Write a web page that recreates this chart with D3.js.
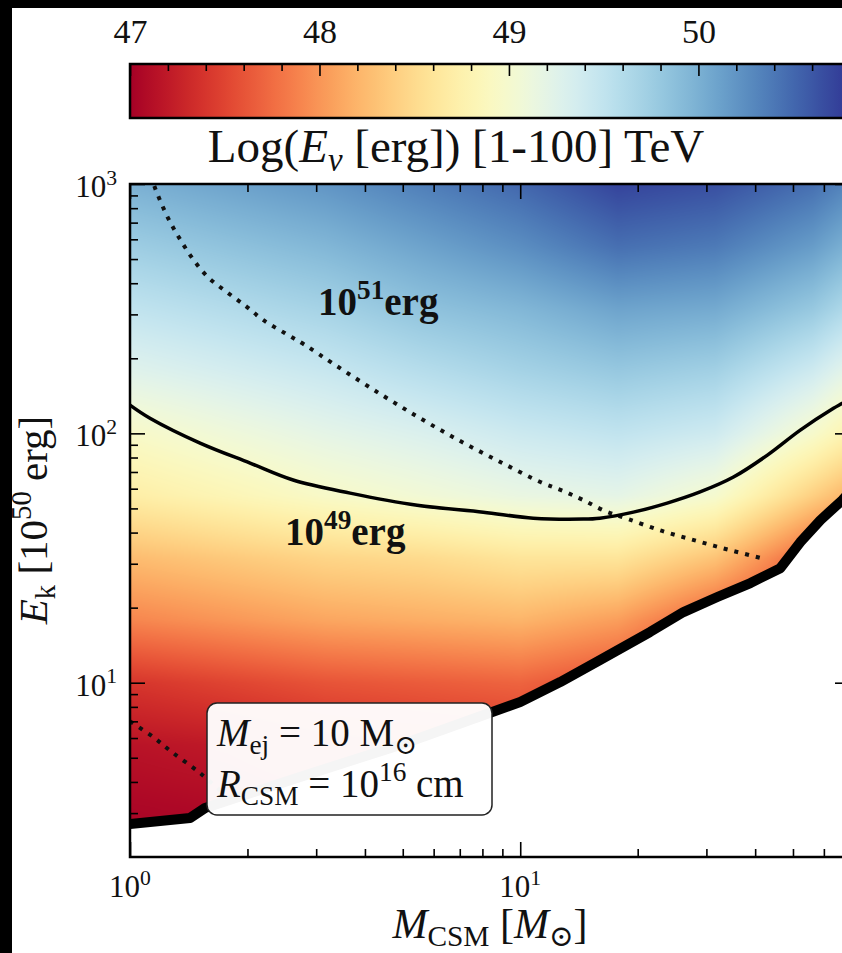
<!DOCTYPE html>
<html><head><meta charset="utf-8">
<script src="https://cdn.jsdelivr.net/npm/d3@7/dist/d3.min.js"></script>
<style>
html,body{margin:0;padding:0;background:#000;overflow:hidden}
svg{display:block}
text{font-family:"Liberation Serif","DejaVu Serif",serif;fill:#111;white-space:pre}
</style></head><body>
<svg id="chart" width="842" height="953"></svg>
<script>
// ---------------- data ----------------
const logMGrid  = [0, 0.25, 0.5, 0.75, 1, 1.25, 1.5, 1.75, 2];
const logEkGrid = [3, 2.75, 2.5, 2.25, 2, 1.75, 1.5, 1.25, 1, 0.75, 0.5, 0.25];
// Log(E_nu) ; rows = logEkGrid, columns = logMGrid
const logEnu = [
  [50.00, 50.10, 50.20, 50.35, 50.50, 50.72, 50.65, 50.45, 50.05],
  [49.75, 49.85, 49.95, 50.10, 50.25, 50.45, 50.38, 50.15, 49.70],
  [49.50, 49.60, 49.70, 49.85, 49.95, 50.10, 50.05, 49.80, 49.30],
  [49.25, 49.35, 49.45, 49.58, 49.70, 49.80, 49.72, 49.40, 48.85],
  [48.95, 49.08, 49.20, 49.30, 49.42, 49.50, 49.40, 48.98, 48.40],
  [48.70, 48.82, 48.95, 49.05, 49.15, 49.20, 49.00, 48.40, 47.80],
  [48.25, 48.35, 48.45, 48.50, 48.60, 48.60, 48.30, 47.65, 47.30],
  [47.90, 48.00, 48.10, 48.15, 48.20, 48.05, 47.65, 47.30, 47.15],
  [47.40, 47.50, 47.60, 47.65, 47.70, 47.55, 47.30, 47.20, 47.10],
  [47.15, 47.20, 47.30, 47.35, 47.40, 47.30, 47.20, 47.10, 47.00],
  [47.05, 47.08, 47.15, 47.20, 47.25, 47.20, 47.10, 47.00, 47.00],
  [47.00, 47.00, 47.05, 47.10, 47.15, 47.10, 47.00, 47.00, 47.00]
];
const contour49M  = [1.0, 1.125, 1.512, 2.031, 2.618, 3.665, 5.445, 8.04, 10.8, 14.5, 16.0, 19.5, 23.8, 28.9, 35.2, 43.0, 52.2, 63.5, 66.9, 70];
const contour49Ek = [129.8, 115, 91.4, 76.0, 65.0, 57.6, 51.5, 48.3, 45.7, 45.3, 45.7, 48.3, 52.5, 58.2, 66.8, 81.8, 103, 126, 132, 138];
const dotted1M  = [1.112, 1.152, 1.252, 1.343, 1.450, 1.585, 1.773, 1.995, 2.193, 2.497, 2.81, 3.355, 4.375, 5.54, 7.02, 8.89, 11.26, 12.9, 14.5, 16.5, 18.9, 23.1, 28.4, 34.5, 42.5];
const dotted1Ek = [1191, 989, 730, 601, 500, 423, 368, 321, 285, 252, 226, 188, 144, 115, 93.1, 76.8, 63.8, 58.7, 54.0, 48.8, 45.3, 40.6, 37.0, 34.0, 31.3];
const dotted2M  = [1.0, 1.146, 1.281, 1.512, 1.752];
const dotted2Ek = [7.0, 6.06, 5.27, 4.34, 3.55];
const boundaryM  = [1.0, 1.425, 1.557, 2.729, 4.924, 8.48, 10.0, 12.66, 16.0, 21.5, 26.2, 32.0, 38.9, 46.4, 52.2, 58.8, 66.9, 74.4];
const boundaryEk = [2.712, 2.867, 3.145, 4.19, 5.63, 7.63, 8.37, 10.06, 12.33, 15.97, 19.2, 22.06, 25.1, 28.8, 36.6, 44.9, 54.0, 64.9];
const xMajorTicks = [1, 10];
const xMinorTicks = [2, 3, 4, 5, 6, 7, 8, 9, 20, 30, 40, 50, 60];
const yMajorTicks = [10, 100, 1000];
const yMinorTicks = [3, 4, 5, 6, 7, 8, 9, 20, 30, 40, 50, 60, 70, 80, 90, 200, 300, 400, 500, 600, 700, 800, 900];
const cbMajorTicks = [47, 48, 49, 50];
const cbMinorTicks = [47.2, 47.4, 47.6, 47.8, 48.2, 48.4, 48.6, 48.8, 49.2, 49.4, 49.6, 49.8, 50.2, 50.4, 50.6];
const cbRange = [47, 50.8];

// ---------------- layout ----------------
const L = 130, R = 850, T = 184, B = 857;
const CB_T = 64, CB_H = 54;
const SERIF = '"Liberation Serif","DejaVu Serif",serif';
const svg = d3.select('#chart');
svg.append('rect').attr('width', 842).attr('height', 953).attr('fill', '#000');
svg.append('rect').attr('x', 12).attr('y', 8).attr('width', 830).attr('height', 945).attr('fill', '#fff');

const x = d3.scaleLog().domain([1, 70]).range([L, R]);
const y = d3.scaleLog().domain([2, 1000]).range([B, T]);
const cb = d3.scaleLinear().domain(cbRange).range([L, R]);
const tOf = v => Math.max(0, Math.min(1, (v - cbRange[0]) / (cbRange[1] - cbRange[0])));

function txt(px, py, size) {
  return svg.append('text').attr('x', px).attr('y', py).attr('font-size', size).attr('font-family', SERIF);
}
// rich text helper
function rich(sel, segs, size) {
  let cur = 0;
  segs.forEach(s => {
    const p = s.p || 0;
    const target = p === 1 ? -0.40 * size : (p === -1 ? 0.20 * size : 0);
    const ts = sel.append('tspan').attr('dy', target - cur).text(s.t);
    cur = target;
    if (p !== 0) ts.attr('font-size', size * 0.7);
    if (s.i) ts.attr('font-style', 'italic');
  });
  return sel;
}

// ---------------- heatmap ----------------
const defs = svg.append('defs');
defs.append('clipPath').attr('id', 'plotClip').append('rect')
  .attr('x', L).attr('y', T).attr('width', R - L).attr('height', B - T);
const bpts = boundaryM.map((m, i) => [x(m), y(boundaryEk[i])]);
const poly = [...bpts, [bpts[bpts.length - 1][0] + 20, T - 10], [L - 10, T - 10], [L - 10, bpts[0][1]]];
defs.append('clipPath').attr('id', 'dataClip').append('path')
  .attr('d', 'M' + poly.map(p => p.join(',')).join('L') + 'Z');

const pw = R - L, ph = B - T;
const cv = document.createElement('canvas'); cv.width = pw; cv.height = ph;
const ctx = cv.getContext('2d');
const img = ctx.createImageData(pw, ph);
const lut = d3.range(1024).map(i => d3.rgb(d3.interpolateRdYlBu(i / 1023)));
const nc = logMGrid.length, nr = logEkGrid.length;
const dM = logMGrid[1] - logMGrid[0], dE = logEkGrid[0] - logEkGrid[1];
function sample(lm, le) {
  let fc = (lm - logMGrid[0]) / dM, fr = (logEkGrid[0] - le) / dE;
  fc = Math.max(0, Math.min(nc - 1, fc)); fr = Math.max(0, Math.min(nr - 1, fr));
  const c0 = Math.min(Math.floor(fc), nc - 2), r0 = Math.min(Math.floor(fr), nr - 2);
  const tc = fc - c0, tr = fr - r0;
  const a = logEnu[r0][c0] * (1 - tc) + logEnu[r0][c0 + 1] * tc;
  const b = logEnu[r0 + 1][c0] * (1 - tc) + logEnu[r0 + 1][c0 + 1] * tc;
  return a * (1 - tr) + b * tr;
}
const lms = d3.range(pw).map(i => Math.log10(x.invert(L + i + 0.5)));
for (let j = 0; j < ph; j++) {
  const le = Math.log10(y.invert(T + j + 0.5));
  for (let i = 0; i < pw; i++) {
    const c = lut[Math.round(tOf(sample(lms[i], le)) * 1023)];
    const k = (j * pw + i) * 4;
    img.data[k] = c.r; img.data[k + 1] = c.g; img.data[k + 2] = c.b; img.data[k + 3] = 255;
  }
}
ctx.putImageData(img, 0, 0);

const gPlot = svg.append('g').attr('clip-path', 'url(#plotClip)');
gPlot.append('g').attr('clip-path', 'url(#dataClip)')
  .append('image').attr('x', L).attr('y', T).attr('width', pw).attr('height', ph)
  .attr('preserveAspectRatio', 'none').attr('href', cv.toDataURL());

const line = d3.line().x(d => x(d[0])).y(d => y(d[1]));
const smooth = d3.line().x(d => x(d[0])).y(d => y(d[1])).curve(d3.curveCatmullRom.alpha(0.5));

[[dotted1M, dotted1Ek], [dotted2M, dotted2Ek]].forEach(([ms, es]) => {
  gPlot.append('path').datum(ms.map((m, i) => [m, es[i]]))
    .attr('d', smooth).attr('fill', 'none').attr('stroke', '#111')
    .attr('stroke-width', 4).attr('stroke-dasharray', '4,7');
});
gPlot.append('path').datum(contour49M.map((m, i) => [m, contour49Ek[i]]))
  .attr('d', smooth).attr('fill', 'none').attr('stroke', '#000').attr('stroke-width', 3.5);
gPlot.append('path').datum(boundaryM.map((m, i) => [m, boundaryEk[i]]))
  .attr('d', line).attr('fill', 'none').attr('stroke', '#000')
  .attr('stroke-width', 10).attr('stroke-linejoin', 'round');

// annotations in plot
rich(txt(318, 315, 39).attr('font-weight', 'bold'), [{t: '10'}, {t: '51', p: 1}, {t: 'erg'}], 39);
rich(txt(285, 545, 39).attr('font-weight', 'bold'), [{t: '10'}, {t: '49', p: 1}, {t: 'erg'}], 39);

// info box
svg.append('rect').attr('x', 207).attr('y', 703).attr('width', 285).attr('height', 112).attr('rx', 10)
  .attr('fill', '#fff').attr('fill-opacity', 0.96).attr('stroke', '#222').attr('stroke-width', 1.5);
rich(txt(217, 746, 39), [{t: 'M', i: 1}, {t: 'ej', p: -1}, {t: ' = 10 M'}, {t: '⊙', p: -1}], 39);
rich(txt(217, 797, 39), [{t: 'R', i: 1}, {t: 'CSM', p: -1}, {t: ' = 10'}, {t: '16', p: 1}, {t: ' cm'}], 39);

// ---------------- axes ----------------
function ticksOnly(axis, tx, ty) {
  const g = svg.append('g').attr('transform', `translate(${tx},${ty})`).call(axis.tickSizeOuter(0).tickFormat(''));
  g.select('.domain').remove();
  g.selectAll('.tick line').attr('stroke', '#000').attr('stroke-width', 1.6);
  g.selectAll('.tick text').remove();
}
ticksOnly(d3.axisBottom(x).tickValues(xMajorTicks).tickSizeInner(-15), 0, B);
ticksOnly(d3.axisBottom(x).tickValues(xMinorTicks).tickSizeInner(-8), 0, B);
ticksOnly(d3.axisTop(x).tickValues(xMajorTicks).tickSizeInner(-15), 0, T);
ticksOnly(d3.axisTop(x).tickValues(xMinorTicks).tickSizeInner(-8), 0, T);
ticksOnly(d3.axisLeft(y).tickValues(yMajorTicks).tickSizeInner(-15), L, 0);
ticksOnly(d3.axisLeft(y).tickValues(yMinorTicks).tickSizeInner(-8), L, 0);
ticksOnly(d3.axisRight(y).tickValues(yMajorTicks).tickSizeInner(-15), R, 0);
ticksOnly(d3.axisRight(y).tickValues(yMinorTicks).tickSizeInner(-8), R, 0);

svg.append('rect').attr('x', L).attr('y', T).attr('width', R - L).attr('height', B - T)
  .attr('fill', 'none').attr('stroke', '#000').attr('stroke-width', 2.5);

// tick labels
xMajorTicks.forEach(d => {
  rich(txt(x(d), 897, 31).attr('text-anchor', 'middle'),
    [{t: '10'}, {t: String(Math.round(Math.log10(d))), p: 1}], 31);
});
yMajorTicks.forEach(d => {
  rich(txt(117, y(d) + 13, 31).attr('text-anchor', 'end'),
    [{t: '10'}, {t: String(Math.round(Math.log10(d))), p: 1}], 31);
});

// axis labels
rich(txt((L + R) / 2, 938, 42).attr('text-anchor', 'middle'),
  [{t: 'M', i: 1}, {t: 'CSM', p: -1}, {t: ' ['}, {t: 'M', i: 1}, {t: '⊙', p: -1}, {t: ']'}], 42);
rich(svg.append('text').attr('transform', 'translate(47,520) rotate(-90)').attr('font-size', 41)
  .attr('font-family', SERIF).attr('text-anchor', 'middle'),
  [{t: 'E', i: 1}, {t: 'k', p: -1}, {t: ' [10'}, {t: '50', p: 1}, {t: ' erg]'}], 41);

// ---------------- colorbar ----------------
const grad = defs.append('linearGradient').attr('id', 'cbGrad')
  .attr('gradientUnits', 'userSpaceOnUse').attr('x1', L).attr('x2', R).attr('y1', 0).attr('y2', 0);
d3.range(0, 1.0001, 0.02).forEach(t => grad.append('stop').attr('offset', t).attr('stop-color', d3.interpolateRdYlBu(t)));
svg.append('rect').attr('x', L).attr('y', CB_T).attr('width', R - L).attr('height', CB_H)
  .attr('fill', 'url(#cbGrad)').attr('stroke', '#000').attr('stroke-width', 2.5);
{
  const g1 = svg.append('g').attr('transform', `translate(0,${CB_T})`)
    .call(d3.axisTop(cb).tickValues(cbMajorTicks).tickSizeInner(-12).tickSizeOuter(0).tickPadding(21).tickFormat(d3.format('d')));
  g1.select('.domain').remove();
  g1.selectAll('.tick line').attr('stroke', '#000').attr('stroke-width', 1.6);
  g1.selectAll('.tick text').attr('font-size', 34).attr('font-family', SERIF).attr('fill', '#111');
  ticksOnly(d3.axisTop(cb).tickValues(cbMinorTicks).tickSizeInner(-7), 0, CB_T);
}
rich(txt(456, 162, 47).attr('text-anchor', 'middle'),
  [{t: 'Log('}, {t: 'E', i: 1}, {t: 'ν', p: -1, i: 1}, {t: ' [erg]) [1-100] TeV'}], 47);
</script>
</body></html>
